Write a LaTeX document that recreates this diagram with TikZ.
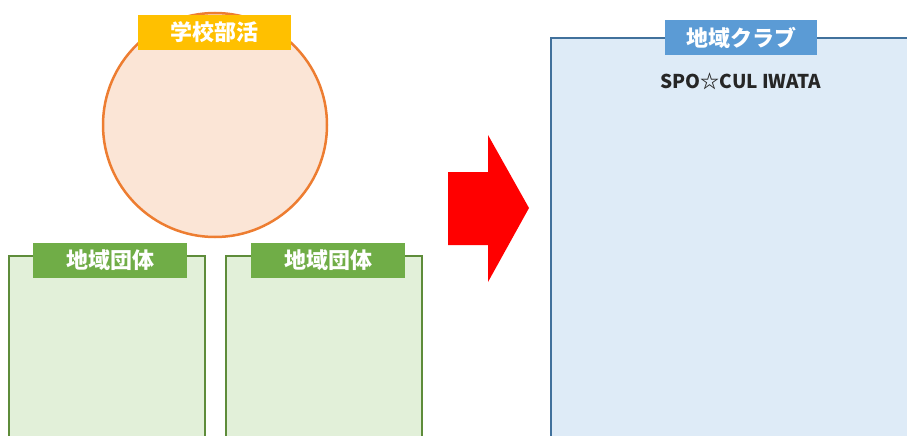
\documentclass[tikz,border=0pt]{standalone}
\usepackage{fontspec}
\newfontfamily\jp{Noto Sans CJK JP}
\usetikzlibrary{positioning}
\definecolor{bukatsu}{HTML}{FFC000}
\definecolor{bukatsuline}{HTML}{ED7D31}
\definecolor{bukatsufill}{HTML}{FBE5D6}
\definecolor{dantai}{HTML}{70AD47}
\definecolor{dantailine}{HTML}{5E8C3A}
\definecolor{dantaifill}{HTML}{E2F0D9}
\definecolor{club}{HTML}{5B9BD5}
\definecolor{clubline}{HTML}{41719C}
\definecolor{clubfill}{HTML}{DEEBF7}

\begin{document}
\begin{tikzpicture}[x=1pt,y=-1pt,
		tag/.style={inner sep=0pt,minimum height=35pt,text=white,font=\jp\bfseries\fontsize{22}{22}\selectfont},
		area/.style={line width=2pt}]
			\useasboundingbox (0,0) rectangle (907,436);
			\clip (0,0) rectangle (907,436);
			% school club
			\node[circle,draw=bukatsuline,fill=bukatsufill,line width=2.5pt,minimum size=224pt,inner sep=0pt] (bukatsu) at (215,125) {};
			\node[tag,fill=bukatsu,minimum width=153pt] (bukatsutag) at (214.5,32.5) {学校部活};
			% local groups
			\draw[area,draw=dantailine,fill=dantaifill] (9,460) |- (205,256) -- (205,460);
			\draw[area,draw=dantailine,fill=dantaifill] (226,460) |- (422,256) -- (422,460);
			\node[tag,fill=dantai,minimum width=154pt] (dantaiA) at (110,260) {地域団体};
			\node[tag,fill=dantai,minimum width=154pt] (dantaiB) at (328,260) {地域団体};
			% arrow
			\fill[red] (448,172) -- (488,172) -- (488,135) -- (529,208) -- (488,282) -- (488,245) -- (448,245) -- cycle;
			% local club
			\fill[clubfill] (551,460) rectangle (920,38);
			\draw[area,draw=clubline] (551,460) |- (920,38);
			\node[tag,fill=club,minimum width=152pt] (clubtag) at (741,37.5) {地域クラブ};
			\node[font=\jp\bfseries\fontsize{19}{19}\selectfont,text=black!85,below=14pt of clubtag] (clubname) {SPO☆CUL IWATA};
		\end{tikzpicture}
\end{document}
